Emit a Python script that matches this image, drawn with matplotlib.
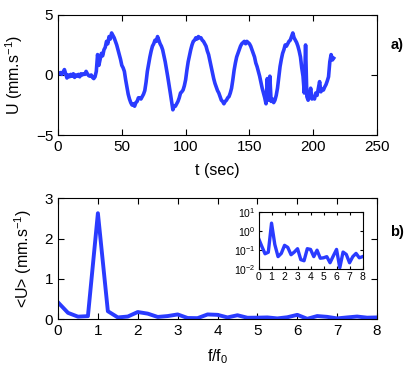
import matplotlib
matplotlib.use("Agg")
import matplotlib.pyplot as plt
import numpy as np

plt.rcParams['font.family'] = ['Liberation Sans', 'DejaVu Sans']
plt.rcParams['mathtext.fontset'] = 'custom'
plt.rcParams['mathtext.rm'] = 'Liberation Sans'
plt.rcParams['mathtext.it'] = 'Liberation Sans'

# velocity time series, one sample per second (t = 0..216 s)
U = [0.15, 0.1, 0.2, 0.05, 0.25, 0.45, 0.1, -0.25, 0.0, -0.15,
     0.05, -0.1, 0.1, -0.2, 0.0, -0.1, 0.05, -0.15, 0.1, 0.0,
     0.1, 0.05, 0.3, 0.1, -0.05, -0.1, 0.0, -0.2, -0.3, -0.15,
     0.3, 1.7, 0.8, 1.3, 1.8, 1.6, 2.1, 2.3, 2.8, 2.6,
     3.2, 3.0, 3.5, 3.3, 3.1, 2.8, 2.5, 2.1, 1.7, 1.3,
     0.8, 0.6, 0.3, -0.4, -1.0, -1.6, -2.0, -2.3, -2.5, -2.4,
     -2.6, -2.3, -2.2, -1.9, -1.9, -2.0, -1.8, -1.6, -1.3, -0.6,
     0.3, 0.9, 1.5, 2.0, 2.4, 2.6, 2.9, 2.8, 3.2, 2.9,
     2.6, 2.4, 2.1, 1.6, 1.1, 0.5, -0.15, -0.8, -1.5, -2.2,
     -2.9, -2.6, -2.6, -2.4, -2.2, -1.9, -1.5, -1.4, -1.25, -0.9,
     -0.4, 0.4, 1.1, 1.6, 2.1, 2.5, 2.8, 2.9, 3.1, 3.0,
     3.2, 3.1, 3.1, 2.9, 2.8, 2.6, 2.4, 2.0, 1.7, 1.2,
     0.7, 0.2, -0.3, -0.7, -1.0, -1.3, -1.5, -1.8, -2.1, -2.2,
     -2.4, -2.2, -2.1, -1.9, -1.8, -1.5, -1.1, -0.4, 0.4, 1.0,
     1.5, 1.8, 2.1, 2.4, 2.6, 2.7, 2.8, 2.6, 2.8, 2.7,
     2.6, 2.4, 2.1, 1.8, 1.5, 1.0, 0.7, 0.3, -0.1, -0.6,
     -1.1, -1.5, -1.9, -2.4, -0.3, -2.1, -0.1, -2.2, -2.0, -2.3,
     -2.1, -1.7, -1.1, -0.2, 0.7, 1.3, 1.8, 2.1, 2.5, 2.4,
     2.6, 2.8, 2.9, 3.2, 3.5, 3.1, 2.9, 2.7, 2.4, 2.0,
     1.5, 0.6, -0.1, -1.5, 2.5, -1.8, -2.1, -1.7, -1.1, -2.0,
     -1.8, -2.0, -1.5, -1.7, -1.1, -0.55, -1.4, -1.2, -1.25, -1.0,
     -0.8, -0.5, -0.15, 1.1, 1.7, 1.25, 1.4]
t = np.arange(len(U))

# spectrum amplitude vs normalised frequency
f_ratio = np.arange(0, 8.01, 0.25)
amp = [0.42, 0.16, 0.065, 0.078, 2.63, 0.2, 0.046, 0.068, 0.18, 0.14,
       0.058, 0.08, 0.12, 0.032, 0.028, 0.12, 0.11, 0.046, 0.1, 0.038,
       0.04, 0.046, 0.022, 0.05, 0.11, 0.012, 0.08, 0.06, 0.022, 0.046,
       0.068, 0.04, 0.046]

col = '#2a3bff'

fig = plt.figure(figsize=(4.15, 3.74), dpi=100)

def style(ax, size=11):
    ax.tick_params(direction='in', top=True, right=True, labelsize=size, length=4)
    for s in ax.spines.values():
        s.set_linewidth(0.8)

ax1 = fig.add_axes([0.1398, 0.639, 0.7687, 0.321])
ax1.plot(t, U, color=col, lw=2.6)
ax1.set_xlim(0, 250)
ax1.set_ylim(-5, 5)
ax1.set_xticks([0, 50, 100, 150, 200, 250])
ax1.set_yticks([-5, 0, 5])
style(ax1)
ax1.set_xlabel('t (sec)', fontsize=11.5)
ax1.set_ylabel('U (mm.s$^{-1}$)', fontsize=11.5)
ax1.xaxis.set_label_coords(0.5, -0.235)
ax1.yaxis.set_label_coords(-0.105, 0.5)

ax2 = fig.add_axes([0.1398, 0.1463, 0.7687, 0.3235])
ax2.plot(f_ratio, amp, color=col, lw=2.8)
ax2.set_xlim(0, 8)
ax2.set_ylim(0, 3)
ax2.set_xticks(range(9))
ax2.set_yticks([0, 1, 2, 3])
style(ax2)
ax2.set_xlabel('f/f$_0$', fontsize=11.5)
ax2.set_ylabel('<U> (mm.s$^{-1}$)', fontsize=11.5)
ax2.xaxis.set_label_coords(0.5, -0.235)
ax2.yaxis.set_label_coords(-0.074, 0.5)

ax3 = fig.add_axes([0.623, 0.280, 0.2506, 0.153])
ax3.semilogy(f_ratio, amp, color=col, lw=2.4)
ax3.set_xlim(0, 8)
ax3.set_ylim(1e-2, 1e1)
ax3.set_xticks(range(9))
ax3.set_yticks([1e-2, 1e-1, 1e0, 1e1])
ax3.minorticks_off()
style(ax3, size=7.5)
ax3.tick_params(length=2.5, pad=2)

fig.text(397 / 415, 1 - 45 / 374, 'a)', fontsize=10.5, fontweight='bold', ha='center', va='center')
fig.text(397 / 415, 1 - 232 / 374, 'b)', fontsize=10.5, fontweight='bold', ha='center', va='center')

fig.savefig('out.png', dpi=100)
